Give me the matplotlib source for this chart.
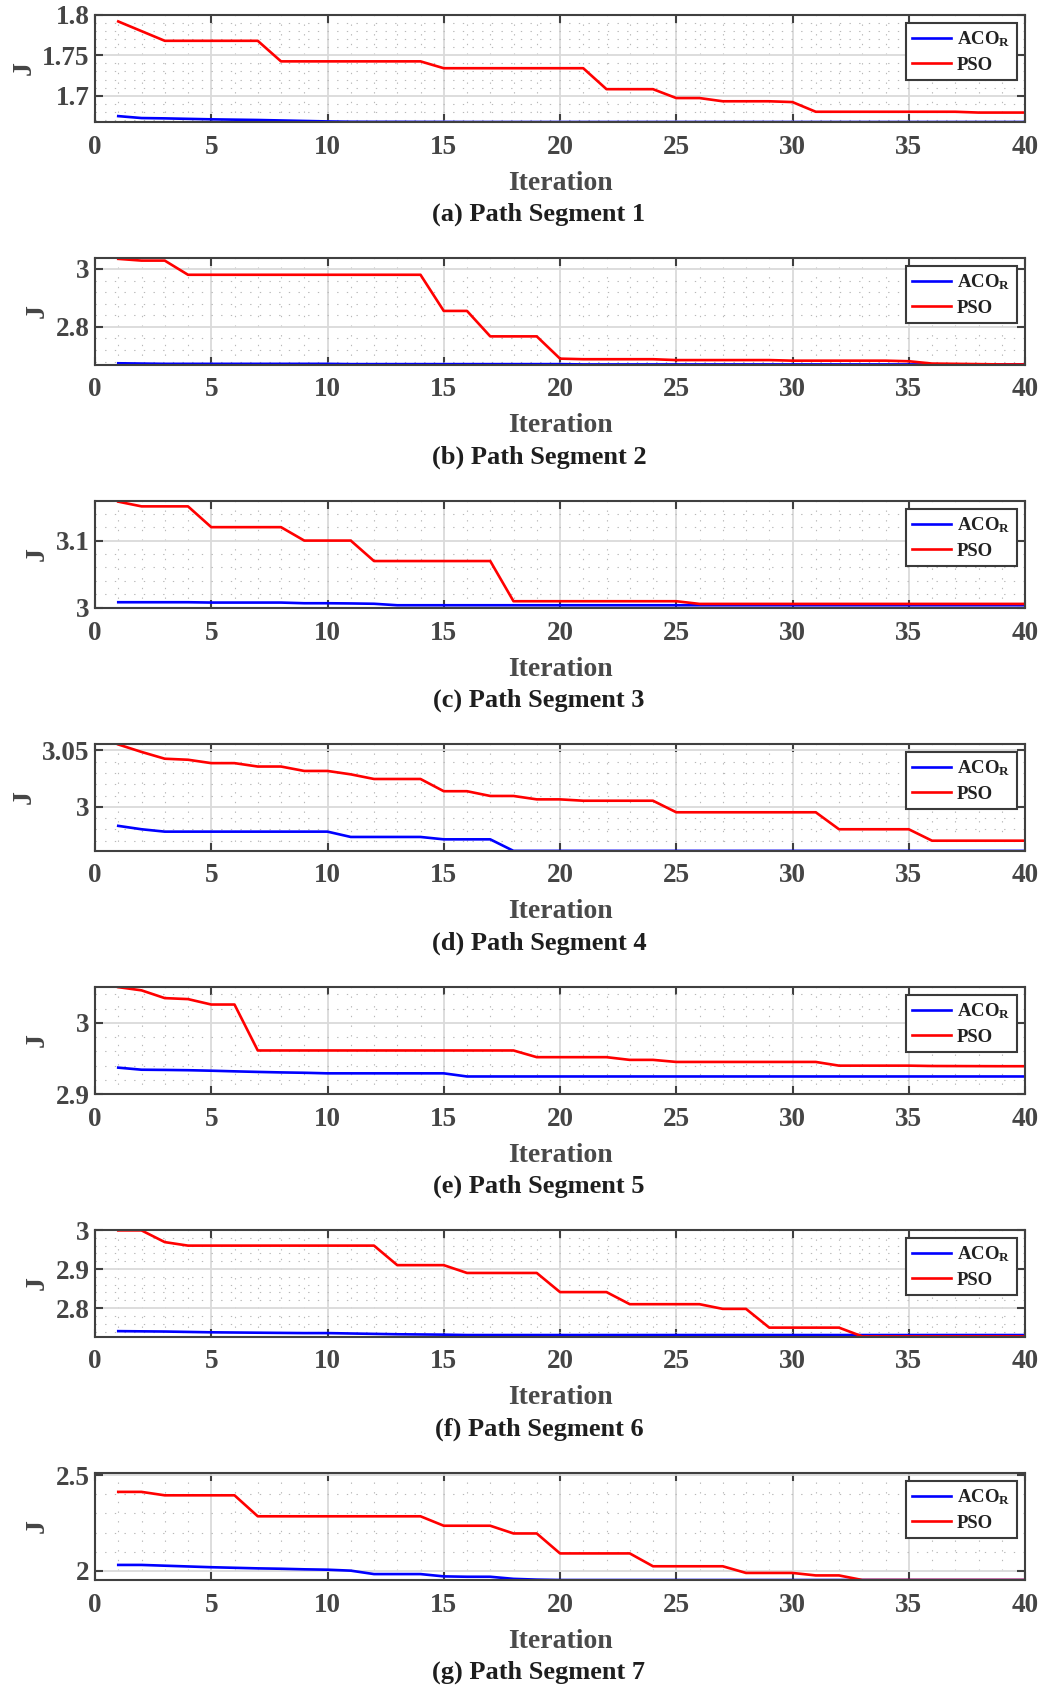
import matplotlib
matplotlib.use('Agg')
import matplotlib.pyplot as plt
from matplotlib.ticker import AutoMinorLocator, FuncFormatter, FixedLocator
from matplotlib.transforms import offset_copy

plt.rcParams['font.family'] = ['Liberation Serif', 'DejaVu Serif']
plt.rcParams['font.weight'] = 'bold'
plt.rcParams['mathtext.fontset'] = 'custom'
plt.rcParams['mathtext.rm'] = 'Liberation Serif:bold'
plt.rcParams['mathtext.it'] = 'Liberation Serif:bold'
plt.rcParams['mathtext.bf'] = 'Liberation Serif:bold'

# ---------------- data ----------------
iterations = list(range(1, 41))

titles = ["(a) Path Segment 1", "(b) Path Segment 2", "(c) Path Segment 3",
          "(d) Path Segment 4", "(e) Path Segment 5", "(f) Path Segment 6",
          "(g) Path Segment 7"]

aco_a = [1.6746, 1.6722, 1.6718, 1.6712, 1.6706, 1.6702, 1.6698, 1.6692, 1.6686, 1.6680,
         1.6676, 1.6675, 1.6675, 1.6674, 1.6674, 1.6673, 1.6673, 1.6673, 1.6673, 1.6673,
         1.6673, 1.6673, 1.6673, 1.6673, 1.6673, 1.6673, 1.6673, 1.6673, 1.6673, 1.6673,
         1.6673, 1.6673, 1.6673, 1.6673, 1.6673, 1.6673, 1.6673, 1.6673, 1.6673, 1.6673]
pso_a = [1.792, 1.780, 1.768, 1.768, 1.768, 1.768, 1.768, 1.7425, 1.7425, 1.7425,
         1.7425, 1.7425, 1.7425, 1.7425, 1.734, 1.734, 1.734, 1.734, 1.734, 1.734,
         1.734, 1.708, 1.708, 1.708, 1.697, 1.697, 1.693, 1.693, 1.693, 1.692,
         1.680, 1.680, 1.680, 1.680, 1.680, 1.680, 1.680, 1.679, 1.679, 1.679]

aco_b = [2.674, 2.673, 2.672, 2.672, 2.672, 2.672, 2.672, 2.672, 2.672, 2.672,
         2.671, 2.671, 2.671, 2.671, 2.671, 2.671, 2.671, 2.671, 2.671, 2.671,
         2.670, 2.670, 2.670, 2.670, 2.670, 2.670, 2.670, 2.670, 2.670, 2.670,
         2.670, 2.670, 2.670, 2.670, 2.670, 2.670, 2.670, 2.670, 2.670, 2.670]
pso_b = [3.035, 3.029, 3.029, 2.980, 2.980, 2.980, 2.980, 2.980, 2.980, 2.980,
         2.980, 2.980, 2.980, 2.980, 2.855, 2.855, 2.767, 2.767, 2.767, 2.690,
         2.688, 2.688, 2.688, 2.688, 2.685, 2.685, 2.685, 2.685, 2.685, 2.683,
         2.683, 2.683, 2.683, 2.683, 2.681, 2.673, 2.672, 2.671, 2.670, 2.670]

aco_c = [3.0081, 3.0081, 3.0081, 3.0081, 3.0076, 3.0076, 3.0076, 3.0076, 3.0066, 3.0066,
         3.0063, 3.0058, 3.0036, 3.0036, 3.0036, 3.0036, 3.0036, 3.0036, 3.0036, 3.0036,
         3.0036, 3.0036, 3.0036, 3.0036, 3.0036, 3.0036, 3.0036, 3.0036, 3.0036, 3.0036,
         3.0036, 3.0036, 3.0036, 3.0036, 3.0036, 3.0036, 3.0036, 3.0036, 3.0036, 3.0036]
pso_c = [3.158, 3.151, 3.151, 3.151, 3.120, 3.120, 3.120, 3.120, 3.100, 3.100,
         3.100, 3.0695, 3.0695, 3.0695, 3.0695, 3.0695, 3.0695, 3.0096, 3.0096, 3.0096,
         3.0096, 3.0096, 3.0096, 3.0096, 3.0096, 3.0056, 3.0056, 3.0056, 3.0056, 3.0056,
         3.0056, 3.0056, 3.0056, 3.0056, 3.0056, 3.0056, 3.0056, 3.0056, 3.0056, 3.0056]

aco_d = [2.9832, 2.9802, 2.9781, 2.9781, 2.9781, 2.9781, 2.9781, 2.9781, 2.9781, 2.9781,
         2.9734, 2.9734, 2.9734, 2.9734, 2.9713, 2.9713, 2.9713, 2.9611, 2.9611, 2.9611,
         2.9611, 2.9611, 2.9611, 2.9611, 2.9611, 2.9611, 2.9611, 2.9611, 2.9611, 2.9611,
         2.9611, 2.9611, 2.9611, 2.9611, 2.9611, 2.9611, 2.9611, 2.9611, 2.9611, 2.9611]
pso_d = [3.0551, 3.0485, 3.0425, 3.0416, 3.0386, 3.0386, 3.0356, 3.0356, 3.0317, 3.0317,
         3.0287, 3.0246, 3.0246, 3.0246, 3.0138, 3.0138, 3.0096, 3.0096, 3.0066, 3.0066,
         3.0054, 3.0054, 3.0054, 3.0054, 2.9952, 2.9952, 2.9952, 2.9952, 2.9952, 2.9952,
         2.9952, 2.9802, 2.9802, 2.9802, 2.9802, 2.9701, 2.9701, 2.9701, 2.9701, 2.9701]

aco_e = [2.9370, 2.9341, 2.9338, 2.9334, 2.9327, 2.9318, 2.9310, 2.9303, 2.9298, 2.9290,
         2.9290, 2.9290, 2.9290, 2.9290, 2.9290, 2.9246, 2.9246, 2.9246, 2.9246, 2.9246,
         2.9246, 2.9246, 2.9246, 2.9246, 2.9246, 2.9246, 2.9246, 2.9246, 2.9246, 2.9246,
         2.9246, 2.9246, 2.9246, 2.9246, 2.9246, 2.9246, 2.9246, 2.9246, 2.9246, 2.9246]
pso_e = [3.0500, 3.0455, 3.0346, 3.0332, 3.0256, 3.0256, 2.9611, 2.9611, 2.9611, 2.9611,
         2.9611, 2.9611, 2.9611, 2.9611, 2.9611, 2.9611, 2.9611, 2.9611, 2.9517, 2.9517,
         2.9517, 2.9517, 2.9479, 2.9479, 2.9450, 2.9450, 2.9450, 2.9450, 2.9450, 2.9450,
         2.9450, 2.9398, 2.9398, 2.9398, 2.9398, 2.9393, 2.9392, 2.9391, 2.9390, 2.9390]

aco_f = [2.7410, 2.7405, 2.7400, 2.7390, 2.7380, 2.7375, 2.7370, 2.7365, 2.7360, 2.7360,
         2.7350, 2.7340, 2.7330, 2.7325, 2.7320, 2.7310, 2.7310, 2.7310, 2.7310, 2.7310,
         2.7310, 2.7310, 2.7310, 2.7310, 2.7310, 2.7310, 2.7310, 2.7310, 2.7310, 2.7310,
         2.7310, 2.7310, 2.7310, 2.7310, 2.7310, 2.7310, 2.7310, 2.7310, 2.7310, 2.7310]
pso_f = [2.999, 2.999, 2.969, 2.960, 2.960, 2.960, 2.960, 2.960, 2.960, 2.960,
         2.960, 2.960, 2.910, 2.910, 2.910, 2.890, 2.890, 2.890, 2.890, 2.841,
         2.841, 2.841, 2.810, 2.810, 2.810, 2.810, 2.798, 2.798, 2.750, 2.750,
         2.750, 2.750, 2.7275, 2.7275, 2.7275, 2.7275, 2.7275, 2.7275, 2.7275, 2.7275]

aco_g = [2.030, 2.030, 2.026, 2.022, 2.018, 2.015, 2.012, 2.010, 2.007, 2.005,
         2.000, 1.982, 1.982, 1.982, 1.970, 1.968, 1.968, 1.957, 1.953, 1.951,
         1.951, 1.951, 1.951, 1.951, 1.951, 1.951, 1.951, 1.951, 1.951, 1.951,
         1.951, 1.951, 1.951, 1.951, 1.951, 1.951, 1.951, 1.951, 1.951, 1.951]
pso_g = [2.413, 2.413, 2.395, 2.395, 2.395, 2.395, 2.285, 2.285, 2.285, 2.285,
         2.285, 2.285, 2.285, 2.285, 2.2355, 2.2355, 2.2355, 2.195, 2.195, 2.0904,
         2.0904, 2.0904, 2.0904, 2.023, 2.023, 2.023, 2.023, 1.988, 1.988, 1.988,
         1.975, 1.975, 1.951, 1.951, 1.951, 1.951, 1.951, 1.951, 1.951, 1.951]

aco_series = [aco_a, aco_b, aco_c, aco_d, aco_e, aco_f, aco_g]
pso_series = [pso_a, pso_b, pso_c, pso_d, pso_e, pso_f, pso_g]

y_limits = [(1.6673, 1.800), (2.668, 3.038), (2.9995, 3.159), (2.961, 3.0555),
            (2.900, 3.0502), (2.726, 3.000), (1.951, 2.512)]
y_ticks = [[1.7, 1.75, 1.8], [2.8, 3.0], [3.0, 3.1], [3.0, 3.05],
           [2.9, 3.0], [2.8, 2.9, 3.0], [2.0, 2.5]]
x_ticks = [0, 5, 10, 15, 20, 25, 30, 35, 40]
legend_labels = [r'ACO$_{\mathrm{R}}$', 'PSO']

# ---------------- figure ----------------
W, H = 1050, 1688
fig = plt.figure(figsize=(W / 100, H / 100), dpi=100)

ax_left_px, ax_w_px, ax_h_px = 95, 930, 107
tops_px = [15, 258, 501, 744, 987, 1230, 1473]

tick_col = '#454545'
spine_col = '#404040'

for i in range(7):
    top = tops_px[i]
    ax = fig.add_axes([ax_left_px / W, 1 - (top + ax_h_px) / H, ax_w_px / W, ax_h_px / H])
    ax.set_axisbelow(True)
    ax.plot(iterations, aco_series[i], color='#0000ff', lw=1.9, label=legend_labels[0])
    ax.plot(iterations, pso_series[i], color='#ff0000', lw=1.9, label=legend_labels[1])

    ax.set_xlim(0, 40)
    ax.set_ylim(*y_limits[i])
    ax.xaxis.set_major_locator(FixedLocator(x_ticks))
    ax.yaxis.set_major_locator(FixedLocator(y_ticks[i]))
    ax.xaxis.set_minor_locator(AutoMinorLocator(5))
    ax.yaxis.set_minor_locator(AutoMinorLocator(5))
    ax.yaxis.set_major_formatter(FuncFormatter(lambda v, p: f'{v:g}'))

    ax.grid(which='major', color='#dadada', lw=1.3, ls='-')
    ax.grid(which='minor', color='#b8b8b8', lw=0.8, ls=(0, (1.2, 7.5)))

    ax.tick_params(which='major', direction='in', length=5.5, width=1.5, color=spine_col,
                   top=True, right=True, labelsize=19.5, labelcolor=tick_col)
    ax.tick_params(axis='x', which='major', pad=9)
    ax.tick_params(axis='y', which='major', pad=4)
    ax.tick_params(which='minor', length=0, top=True, right=True)
    for lab in ax.get_xticklabels() + ax.get_yticklabels():
        lab.set_fontweight('bold')
    for sp in ax.spines.values():
        sp.set_color(spine_col)
        sp.set_linewidth(1.5)

    ax.set_ylabel('J', fontsize=20, fontweight='bold', color=tick_col, labelpad=4)

    tr1 = offset_copy(ax.transAxes, fig=fig, x=0, y=-61, units='dots')
    ax.text(0.5, 0, 'Iteration', transform=tr1, ha='center', va='center',
            fontsize=20, fontweight='bold', color='#4a4a4a')
    tr2 = offset_copy(ax.transAxes, fig=fig, x=-21, y=-92, units='dots')
    ax.text(0.5, 0, titles[i], transform=tr2, ha='center', va='center',
            fontsize=19, fontweight='bold', color='#1e1e1e')

    leg = ax.legend(loc='upper right', bbox_to_anchor=(1, 1), borderaxespad=0.42,
                    fontsize=13.5, frameon=True, fancybox=False, framealpha=1,
                    edgecolor='#3a3a3a', facecolor='white', handlelength=2.1,
                    handletextpad=0.3, borderpad=0.35, labelspacing=0.4)
    leg.get_frame().set_linewidth(1.5)
    for t in leg.get_texts():
        t.set_fontweight('bold')
        t.set_color('#222222')

fig.savefig('out.png', dpi=100)
